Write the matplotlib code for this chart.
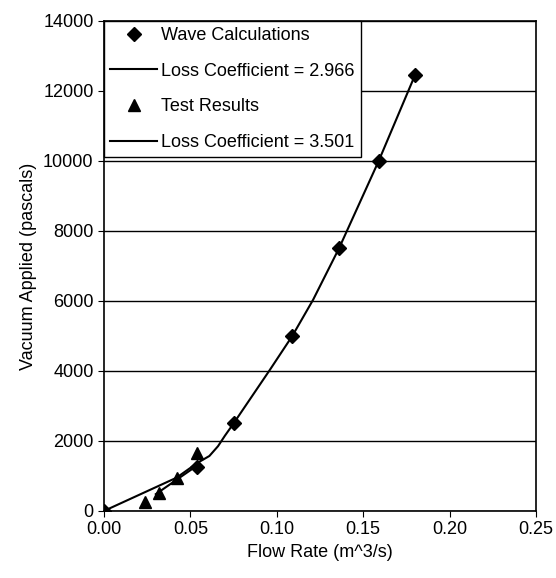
import numpy as np
import matplotlib.pyplot as plt

plt.rcParams['font.family'] = ['Liberation Sans', 'DejaVu Sans']

# Wave calculations (diamonds)
wave_flow = [0.0, 0.054, 0.075, 0.109, 0.136, 0.159, 0.180]
wave_vac = [0, 1250, 2500, 5000, 7500, 10000, 12450]

# Test results (triangles)
test_flow = [0.024, 0.032, 0.042, 0.054]
test_vac = [260, 514, 943, 1650]

# Loss coefficient = 2.966 curve
loss1_flow = [0.0, 0.042, 0.054, 0.061, 0.066, 0.070, 0.075, 0.096, 0.109, 0.121, 0.136, 0.159, 0.180]
loss1_vac = [0, 950, 1370, 1570, 1850, 2150, 2500, 4030, 5000, 6030, 7500, 10000, 12450]

# Loss coefficient = 3.501 line
loss2_flow = [0.030, 0.054]
loss2_vac = [480, 1300]

fig = plt.figure(figsize=(5.56, 5.78), dpi=100)
ax = fig.add_axes([0.187, 0.116, 0.777, 0.848])

ax.plot(wave_flow, wave_vac, 'D', color='black', markersize=7, label='Wave Calculations', zorder=4)
ax.plot(loss1_flow, loss1_vac, '-', color='black', lw=1.5, label='Loss Coefficient = 2.966', zorder=3)
ax.plot(test_flow, test_vac, '^', color='black', markersize=8, label='Test Results', zorder=4)
ax.plot(loss2_flow, loss2_vac, '-', color='black', lw=1.5, label='Loss Coefficient = 3.501', zorder=3)

ax.set_xlim(0, 0.25)
ax.set_ylim(0, 14000)
ax.set_xticks(np.arange(0, 0.26, 0.05))
ax.set_xticklabels([f'{v:.2f}' for v in np.arange(0, 0.26, 0.05)])
ax.set_yticks(np.arange(0, 14001, 2000))
ax.yaxis.grid(True, color='black', lw=1)
ax.set_axisbelow(True)
for s in ax.spines.values():
    s.set_color('black')
    s.set_linewidth(1.2)
ax.tick_params(labelsize=13, length=4, color='black')

ax.set_xlabel('Flow Rate (m^3/s)', fontsize=13)
ax.set_ylabel('Vacuum Applied (pascals)', fontsize=13)

leg = ax.legend(loc='upper left', bbox_to_anchor=(0, 1), borderaxespad=0, fontsize=13,
                handlelength=2.6, labelspacing=1.03, handletextpad=0.2, borderpad=0.35,
                fancybox=False, framealpha=1, edgecolor='black')
leg.get_frame().set_linewidth(1)

fig.savefig('out.png', dpi=100)
